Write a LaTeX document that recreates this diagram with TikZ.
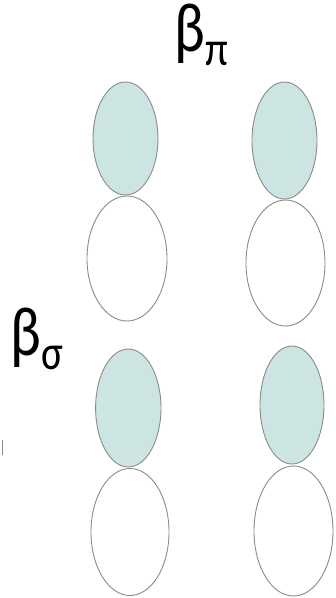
\documentclass[tikz,border=0pt]{standalone}
\usepackage{fontspec}
\setmainfont{Carlito}
\usetikzlibrary{positioning}

\definecolor{lobefill}{HTML}{CCE5E3}
\definecolor{lobeline}{HTML}{8A8A8A}

\tikzset{
	lobe/.style={draw=lobeline, line width=0.9pt},
	shaded lobe/.style={lobe, fill=lobefill},
	betalabel/.style={inner sep=0pt, anchor=base west, font=\fontsize{58}{58}\selectfont},
}
\newcommand{\betasub}[1]{\scalebox{1}[1.2]{β\raisebox{-12pt}{\fontsize{41}{41}\selectfont #1}}}

\begin{document}
\begin{tikzpicture}[x=1pt, y=-1pt]
	\useasboundingbox (0,0) rectangle (336,598);
	% shaded upper lobes
	\foreach \cx/\cy/\rx/\ry in {125.5/138.5/32.5/56.5, 284.5/140.5/32.5/58.5, 128.3/408/32.7/59, 292/405/32/59}{
		\draw[shaded lobe] (\cx,\cy) ellipse[x radius=\rx, y radius=\ry];
	}
	% empty lower lobes
	\foreach \cx/\cy/\rx/\ry in {127/258.5/40/62.5, 285.5/263/39.5/63, 130/532/39/63.5, 293.5/531/39.5/65}{
		\draw[lobe] (\cx,\cy) ellipse[x radius=\rx, y radius=\ry];
	}
	\node[betalabel] (bpi) at (174,51) {\betasub{π}};
	\node[betalabel] (bsigma) at (10,355) {\betasub{σ}};
	\draw[lobeline, line width=1pt] (2.7,440) -- (2.7,455);
\end{tikzpicture}
\end{document}
